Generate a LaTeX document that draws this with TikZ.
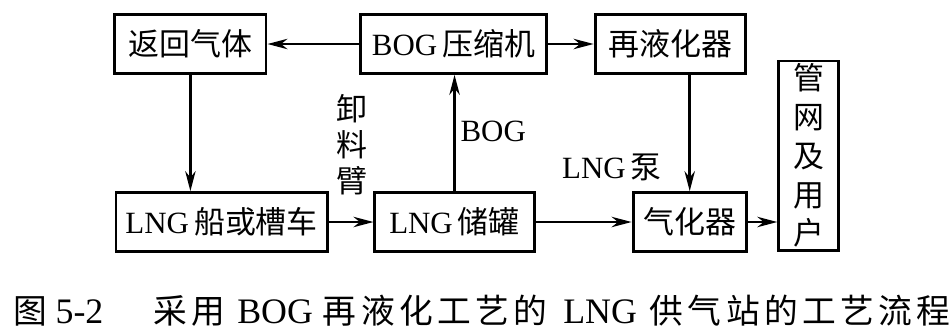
\documentclass[tikz,border=0pt]{standalone}
\usepackage{fontspec}
\setmainfont{Liberation Serif}
\newfontfamily\cjk{Noto Sans CJK SC}
\newfontfamily\cjkcap[LetterSpace=13]{Noto Sans CJK SC}
\usepackage{tikz}
\usetikzlibrary{arrows.meta, positioning}
\newcommand{\zh}[1]{{\cjk #1}}
\newcommand{\cz}[1]{{\cjkcap\fontsize{24}{28}\selectfont #1}}
\tikzset{
    unit/.style={
        rectangle,
        draw=black,
        line width=2.1pt,
        align=center,
        inner sep=0pt,
        minimum height=1.47cm,
        font=\fontsize{22}{26}\selectfont
    },
    tag/.style={
        align=center,
        inner sep=0pt,
        font=\fontsize{22}{26}\selectfont
    },
    arrow/.style={line width=1.8pt, -{Stealth[length=5mm, width=2.6mm, inset=1.6mm]}}
}
\begin{document}
\begin{tikzpicture}

        \useasboundingbox (0,0) rectangle (23.8,-8.3);

        \node (back) [unit, minimum width=3.78cm] at (4.76,-1.1) {\zh{返回气体}};
        \node (comp) [unit, minimum width=4.63cm, right=2.3cm of back] {BOG\,\zh{压缩机}};
        \node (reliq) [unit, minimum width=3.75cm, right=1.15cm of comp] {\zh{再液化器}};

        \node (ship) [unit, minimum width=5.28cm] at (5.54,-5.55) {LNG\,\zh{船或槽车}};
        \node (tank) [unit, minimum width=3.98cm, right=1.12cm of ship] {LNG\,\zh{储罐}};
        \node (vap) [unit, minimum width=2.83cm, right=2.4cm of tank] {\zh{气化器}};
        \node (grid) [unit, minimum width=1.5cm, minimum height=4.73cm, font=\fontsize{22}{27.6}\selectfont] at (20.22,-3.89) {\zh{管}\\\zh{网}\\\zh{及}\\\zh{用}\\\zh{户}};

        \node (arm) [tag, font=\fontsize{22}{25.5}\selectfont] at (8.8,-3.62) {\zh{卸}\\\zh{料}\\\zh{臂}};
        \node (boglbl) [tag] at (12.33,-3.28) {BOG};
        \node (pump) [tag] at (15.3,-4.18) {LNG\,\zh{泵}};

        % figure caption
        \node (caption) [tag, anchor=west, font=\fontsize{25.5}{28}\selectfont] at (0.34,-7.76) {\cz{图}\hspace{0.2cm}5-2\hspace{1.25cm}\cz{采用}\hspace{0.3cm}BOG\hspace{0.25cm}\cz{再液化工艺的}\hspace{0.4cm}LNG\hspace{0.32cm}\cz{供气站的工艺流程}};

        \draw [arrow] (comp) -- (back);
        \draw [arrow] (comp) -- (reliq);
        \draw [arrow] (back) -- (back |- ship.north);
        \draw [arrow] (ship) -- (tank);
        \draw [arrow] (tank) -- (tank |- comp.south);
        \draw [arrow] (tank) -- (vap);
        \draw [arrow] (reliq.south -| vap) -- (vap);
        \draw [arrow] (vap) -- (vap -| grid.west);

    \end{tikzpicture}
\end{document}
